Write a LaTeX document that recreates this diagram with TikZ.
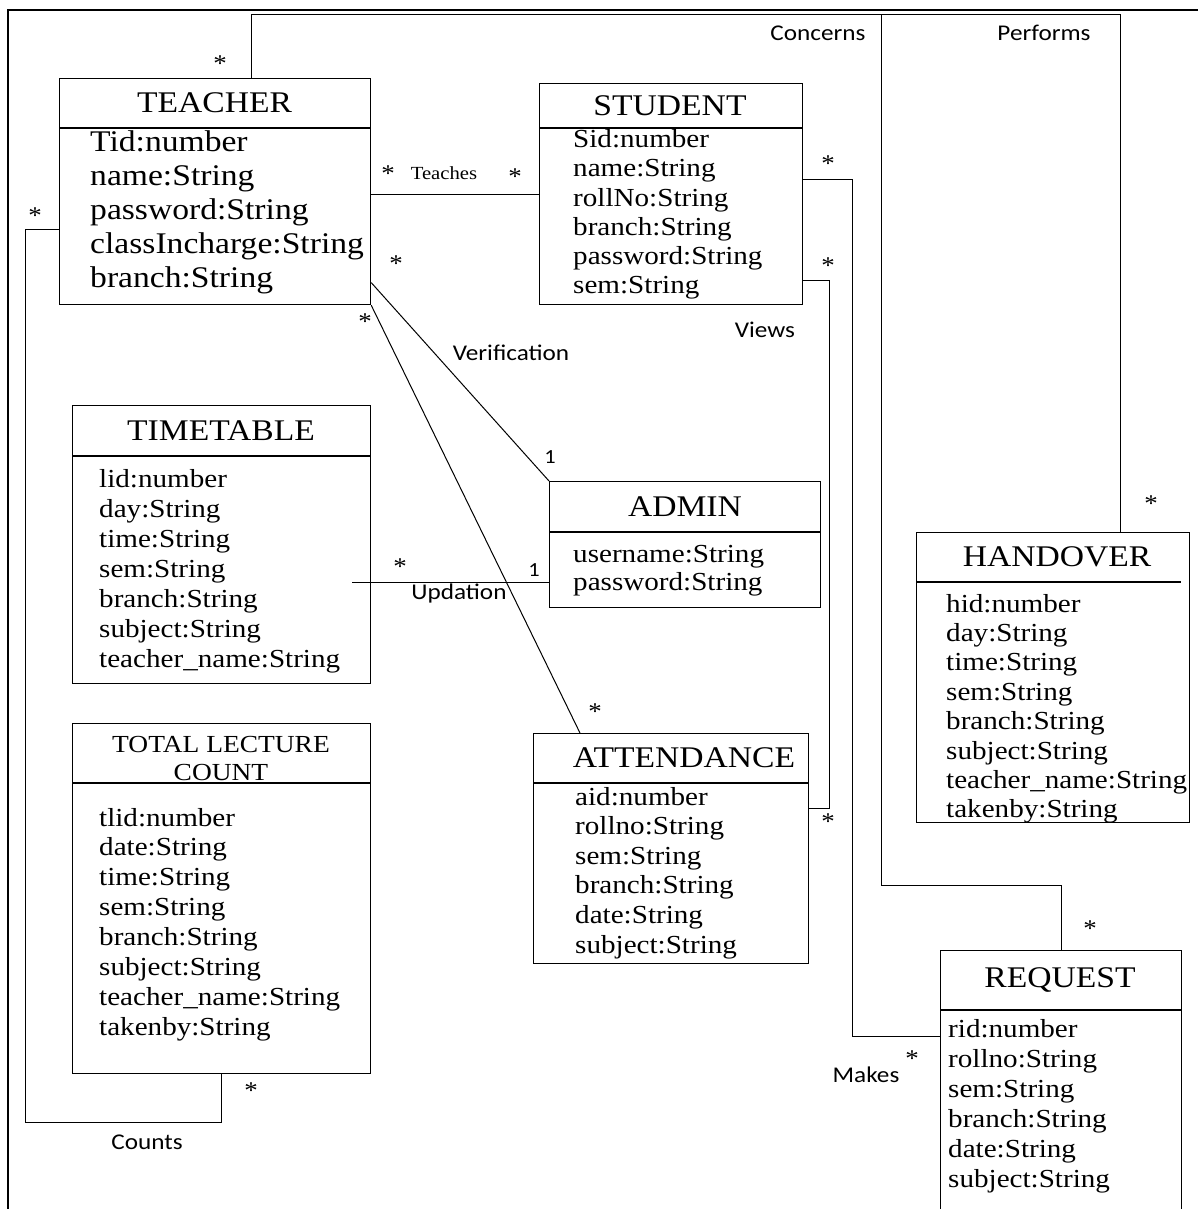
\documentclass[tikz,border=0pt]{standalone}
\usepackage{fontspec}
\newfontfamily\umlfont[FakeStretch=1.12]{Liberation Serif}
\newfontfamily\labfont[FakeStretch=1.12]{Carlito}
\usetikzlibrary{calc}
\tikzset{
  classbox/.style={draw, line width=1.2pt, anchor=north west, inner sep=0pt},
  classname/.style={font=\umlfont\fontsize{30}{36}\selectfont, inner sep=0pt},
  attr/.style={font=\umlfont\fontsize{26}{30}\selectfont, anchor=base west, inner sep=0pt},
  bigattr/.style={attr, font=\umlfont\fontsize{30}{34}\selectfont},
  assoc/.style={font=\labfont\fontsize{22.5}{27}\selectfont, inner sep=0pt},
  mult/.style={font=\umlfont\fontsize{24}{24}\selectfont, inner sep=0pt},
  one/.style={font=\labfont\fontsize{20}{24}\selectfont, inner sep=0pt},
  link/.style={line width=1pt},
}
\begin{document}
\begin{tikzpicture}[x=1pt,y=-1pt]
\useasboundingbox (0,0) rectangle (1198,1209);
\draw[line width=1.5pt] (8,1209) |- (1198,10);

% class boxes
\node[classbox, minimum width=311pt, minimum height=226pt] (teacher) at (59,78) {};
\node[classbox, minimum width=263pt, minimum height=221pt] (student) at (539,83) {};
\node[classbox, minimum width=298pt, minimum height=278pt] (timetable) at (72,405) {};
\node[classbox, minimum width=298pt, minimum height=350pt] (tlc) at (72,723) {};
\node[classbox, minimum width=271pt, minimum height=126pt] (admin) at (549,481) {};
\node[classbox, minimum width=275pt, minimum height=230pt] (attendance) at (533,733) {};
\node[classbox, minimum width=273pt, minimum height=290pt] (handover) at (916,532) {};
\node[classbox, minimum width=241pt, minimum height=290pt] (request) at (940,950) {};

% header separators
\draw[line width=1.2pt] (teacher.north west) ++(0,50) -- ++(311,0);
\draw[line width=1.2pt] (student.north west) ++(0,45) -- ++(263,0);
\draw[line width=1.2pt] (timetable.north west) ++(0,51) -- ++(298,0);
\draw[line width=1.2pt] (tlc.north west) ++(0,60) -- ++(298,0);
\draw[line width=1.2pt] (admin.north west) ++(0,51) -- ++(271,0);
\draw[line width=1.2pt] (attendance.north west) ++(0,50) -- ++(275,0);
\draw[line width=1.2pt] (handover.north west) ++(0,50) -- ++(265,0);
\draw[line width=1.2pt] (request.north west) ++(0,60) -- ++(241,0);

% class names
\node[classname] (teacherT) at (214.5,103) {TEACHER};
\node[classname] (studentT) at (670,105.5) {STUDENT};
\node[classname] (timetableT) at (221,430.5) {TIMETABLE};
\node[classname, anchor=base, font=\umlfont\fontsize{24.5}{29}\selectfont] (tlcT) at (221,752) {TOTAL LECTURE};
\node[classname, anchor=base, font=\umlfont\fontsize{24.5}{29}\selectfont] (tlcT2) at (221,780) {COUNT};
\node[classname] (adminT) at (685,506.5) {ADMIN};
\node[classname] (attendanceT) at (684,758) {ATTENDANCE};
\node[classname] (handoverT) at (1057,557) {HANDOVER};
\node[classname] (requestT) at (1060,980) {REQUEST};

% attributes
\foreach \a [count=\i from 0] in {Tid:number, name:String, password:String, classIncharge:String, branch:String}
  \node[bigattr] (ta\i) at (90,152+33.8*\i) {\a};
\foreach \a [count=\i from 0] in {Sid:number, name:String, rollNo:String, branch:String, password:String, sem:String}
  \node[attr] (sa\i) at (573,148+29*\i) {\a};
\foreach \a [count=\i from 0] in {lid:number, day:String, time:String, sem:String, branch:String, subject:String, teacher\_name:String}
  \node[attr] (tta\i) at (99,487+30*\i) {\a};
\foreach \a [count=\i from 0] in {tlid:number, date:String, time:String, sem:String, branch:String, subject:String, teacher\_name:String, takenby:String}
  \node[attr] (la\i) at (99,826+29.9*\i) {\a};
\foreach \a [count=\i from 0] in {username:String, password:String}
  \node[attr] (aa\i) at (573,562+28.5*\i) {\a};
\foreach \a [count=\i from 0] in {aid:number, rollno:String, sem:String, branch:String, date:String, subject:String}
  \node[attr] (ata\i) at (575,805+29.6*\i) {\a};
\foreach \a [count=\i from 0] in {hid:number, day:String, time:String, sem:String, branch:String, subject:String, teacher\_name:String, takenby:String}
  \node[attr] (ha\i) at (946,612+29.4*\i) {\a};
\foreach \a [count=\i from 0] in {rid:number, rollno:String, sem:String, branch:String, date:String, subject:String}
  \node[attr] (ra\i) at (948,1037+30*\i) {\a};

% associations
\coordinate (ptop) at (1120,15);
\coordinate (ctop) at (881,15);
\coordinate (cbend) at (25,1122);
\coordinate (upd) at (352,582);
\coordinate (mk) at (852,1036);
\coordinate (vw) at (829,808);
\draw[link] ([xshift=192pt]teacher.north west) |- (ptop) -- (ptop |- handover.north);
\draw[link] (ctop) -- ++(0,870) -| (request.north);
\draw[link] (student.west) -- (student.west -| teacher.east);
\draw[link] ([yshift=-38pt]teacher.west) -| (cbend) -| (tlc.south);
\draw[link] ([yshift=-91pt]teacher.east) -- (admin.north west);
\draw[link] (teacher.south east) -- ([xshift=47pt]attendance.north west);
\draw[link] (upd) -- (upd -| admin.west);
\draw[link] ([yshift=14.5pt]student.east) -| (mk) -- (mk -| request.west);
\draw[link] ([yshift=-86.5pt]student.east) -| (vw) -- (vw -| attendance.east);

% association names
\node[assoc] (concerns) at (818,33) {Concerns};
\node[assoc] (performs) at (1044,33) {Performs};
\node[assoc, font=\umlfont\fontsize{18.5}{22}\selectfont] (teaches) at (444,173) {Teaches};
\node[assoc] (verification) at (511,353) {Verification};
\node[assoc] (views) at (765,330) {Views};
\node[assoc] (updation) at (459,593) {Updation};
\node[assoc] (makes) at (866,1075) {Makes};
\node[assoc] (counts) at (147,1142) {Counts};

% multiplicities
\node[mult] (m1) at (220,64) {*};
\node[mult] (m2) at (35,216) {*};
\node[mult] (m3) at (388,174) {*};
\node[mult] (m4) at (515,177) {*};
\node[mult] (m5) at (396,264) {*};
\node[mult] (m6) at (365,322) {*};
\node[mult] (m7) at (828,164) {*};
\node[mult] (m8) at (828,266) {*};
\node[mult] (m9) at (400,567) {*};
\node[mult] (m10) at (595,712) {*};
\node[mult] (m11) at (828,822) {*};
\node[mult] (m12) at (1151,504) {*};
\node[mult] (m13) at (1090,929) {*};
\node[mult] (m14) at (912,1059) {*};
\node[mult] (m15) at (251,1091) {*};
\node[one] (o1) at (550,457) {1};
\node[one] (o2) at (534,570) {1};
\end{tikzpicture}
\end{document}
